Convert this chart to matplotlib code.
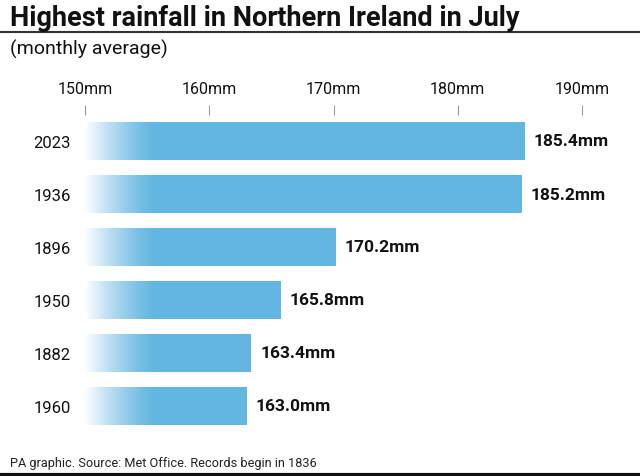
import numpy as np
import matplotlib
matplotlib.use('Agg')
import matplotlib.pyplot as plt
from matplotlib.lines import Line2D

plt.rcParams['font.family'] = ['Roboto', 'DejaVu Sans']

years = ['2023', '1936', '1896', '1950', '1882', '1960']
rainfall = [185.4, 185.2, 170.2, 165.8, 163.4, 163.0]
ticks = [150, 160, 170, 180, 190]
tick_labels = ['150mm', '160mm', '170mm', '180mm', '190mm']

blue = '#63b6e1'

fig = plt.figure(figsize=(6.4, 4.77), dpi=100)
ax = fig.add_axes([85 / 640, 1 - 433.5 / 477, 497 / 640, 318 / 477])

pos = np.arange(len(years))
bars = ax.barh(pos, [v - 150 for v in rainfall], left=150, height=0.71,
               color=blue, edgecolor='none')

# white fade at the left end of every bar
grad = np.ones((1, 256, 4))
grad[0, :, 3] = np.linspace(1, 0, 256) ** 1.3
for b in bars:
    im = ax.imshow(grad, extent=[150, 155.6, b.get_y() + b.get_height(), b.get_y()],
                   aspect='auto', zorder=3, interpolation='bilinear')
    im.set_clip_path(b)

for p, v in zip(pos, rainfall):
    ax.text(v + 0.7, p, f'{v:.1f}mm', va='center', ha='left', fontsize=12.5,
            fontweight='bold', color='#111111')

ax.set_xlim(150, 190)
ax.set_ylim(5.5, -0.5)
ax.set_yticks(pos)
ax.set_yticklabels(years, fontsize=12, color='#111111')
ax.tick_params(axis='y', length=0, pad=10)
ax.xaxis.tick_top()
ax.set_xticks(ticks)
ax.set_xticklabels(tick_labels, fontsize=11.5, color='#111111')
ax.tick_params(axis='x', length=7, width=0.8, color='#999999', pad=6)
for s in ax.spines.values():
    s.set_visible(False)

fig.text(10 / 640, 1 - 18 / 477, 'Highest rainfall in Northern Ireland in July',
         fontsize=19.5, fontweight='bold', va='center', ha='left', color='#111111')
fig.add_artist(Line2D([0, 1], [1 - 33 / 477] * 2, color='#333333', lw=1.5))
fig.text(10 / 640, 1 - 49 / 477, '(monthly average)', fontsize=14,
         va='center', ha='left', color='#111111')
fig.text(10 / 640, 1 - 464 / 477, 'PA graphic. Source: Met Office. Records begin in 1836',
         fontsize=9.2, va='center', ha='left', color='#222222')
fig.add_artist(Line2D([0, 1], [1 - 476 / 477] * 2, color='#111111', lw=3))

fig.savefig('out.png', dpi=100)
